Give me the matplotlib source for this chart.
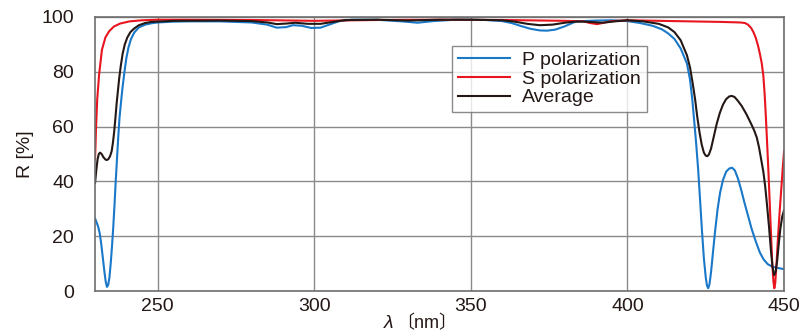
import matplotlib
matplotlib.use("Agg")
import matplotlib.pyplot as plt

# P polarization
wl_p = [230, 230.5, 231, 231.5, 232, 232.5, 233, 233.4, 233.8, 234.2, 234.6, 235, 235.4,
        235.8, 236.2, 236.6, 237, 237.4, 237.8, 238.3, 238.8, 239.4, 240, 240.7, 241.5,
        242.5, 244, 246, 248, 250, 255, 260, 270, 280, 285, 288, 291, 293.2, 296, 299,
        302, 305, 308, 312, 320, 328, 333, 338, 345, 350, 355, 360, 363, 366, 369, 372,
        374.3, 377, 380, 383, 386, 390, 395, 400, 404, 408, 411, 413, 415, 417, 419,
        420, 420.7, 421.4, 422, 422.6, 423.2, 423.8, 424.4, 425, 425.4, 425.8, 426.2,
        426.7, 427.3, 428, 428.8, 429.6, 430.5, 431.5, 432.5, 433.4, 434.3, 435.3,
        436.3, 437.3, 438.5, 439.7, 441, 442.3, 443.5, 444.8, 446.2, 448, 450]
r_p = [26.5, 25, 23.5, 21, 17, 12, 7, 3.5, 1.5, 2.2, 5, 10, 16, 23, 31, 40, 48, 56, 63,
       69, 74.5, 80, 85, 89, 92, 94.3, 96.2, 97.2, 97.7, 98.0, 98.3, 98.4, 98.4, 98.0,
       97.2, 96.1, 96.3, 97.0, 96.8, 96.0, 96.1, 97.3, 98.5, 99.0, 99.0, 98.4, 97.9,
       98.5, 99.0, 99.0, 98.9, 98.5, 97.8, 96.7, 95.7, 95.1, 95.0, 95.4, 96.6, 98.1,
       98.5, 98.7, 98.8, 98.5, 97.8, 96.8, 95.5, 94.0, 92.0, 88.5, 83, 77, 70, 61, 53,
       44, 33, 22, 12, 5, 2, 1, 2.5, 7, 14, 22, 30, 36, 40.5, 43.5, 44.7, 45, 44, 41,
       37, 32.5, 27.5, 22.5, 18, 14, 11.5, 9.8, 8.9, 8.4, 8.0]

# S polarization
wl_s = [230, 230.15, 230.3, 230.7, 231.3, 232.2, 233.3, 234.5, 236, 238, 241, 245, 250,
        260, 280, 300, 320, 340, 360, 380, 386, 388, 390.3, 392.5, 395, 400, 410, 420,
        430, 436, 437.5, 438.5, 439.5, 440.3, 441, 441.7, 442.3, 442.9, 443.4, 443.8,
        444.2, 444.6, 445, 445.4, 445.8, 446.2, 446.6, 446.9, 447.2, 447.6, 448.1,
        448.6, 449.2, 449.6, 450]
r_s = [48, 53, 59, 70, 79, 88, 92.5, 94.8, 96.5, 97.6, 98.4, 98.8, 99.0, 99.0, 98.9,
       98.6, 98.9, 99.0, 98.9, 98.6, 98.4, 97.8, 97.4, 97.9, 98.5, 98.8, 98.6, 98.4,
       98.2, 98.0, 97.8, 97.2, 96.0, 94.3, 92.3, 89.5, 86.5, 83, 78.5, 72, 63.5, 54, 44,
       33, 22, 11, 3.5, 1, 3, 10, 20, 29, 38.5, 45, 51]

# Average
wl_a = [230, 230.4, 230.8, 231.2, 231.6, 232.1, 232.7, 233.3, 233.8, 234.3, 234.8,
        235.3, 235.7, 236.1, 236.5, 236.9, 237.3, 237.7, 238.2, 238.8, 239.5, 240.3,
        241.3, 242.5, 244, 246, 248, 255, 270, 280, 285, 288, 291, 294, 298, 302, 306,
        310, 320, 330, 340, 350, 360, 364, 368, 372, 376, 380, 384, 388, 392, 396, 400,
        405, 410, 413, 415, 417, 419, 420, 420.8, 421.6, 422.3, 423, 423.7, 424.4, 425,
        425.5, 426, 426.7, 427.5, 428.5, 429.5, 430.5, 431.5, 432.5, 433.3, 434.2,
        435.2, 436.5, 438, 439.5, 440.5, 441.3, 442, 442.7, 443.4, 444, 444.6, 445.2,
        445.8, 446.3, 446.8, 447.3, 447.8, 448.3, 448.8, 449.4, 450]
r_a = [39.4, 44, 48, 50, 50.5, 50, 48.8, 48, 47.8, 48.2, 49.2, 51, 54, 58, 63, 68.5, 73,
       77.5, 82, 86.5, 90, 92.5, 94.5, 95.8, 97, 97.8, 98.2, 98.6, 98.7, 98.5, 98.0,
       97.4, 97.6, 97.9, 97.5, 97.5, 98.2, 98.9, 99.0, 98.7, 99.0, 99.0, 98.8, 98.3,
       97.5, 97.0, 97.2, 97.9, 98.4, 98.2, 97.9, 98.4, 98.8, 98.4, 97.5, 96.2, 94.5,
       91.5, 86, 81.5, 76, 70, 63.5, 58, 53.5, 50.5, 49.4, 49.2, 49.8, 52, 56, 61, 65,
       68, 70, 71, 71.2, 70.8, 69.5, 67.5, 64.5, 61, 58.5, 56, 52.5, 48, 43.5, 38, 31,
       23.5, 15, 9, 5.8, 7, 11, 17, 22.5, 27, 29.5]

x_ticks = [250, 300, 350, 400, 450]
y_ticks = [0, 20, 40, 60, 80, 100]

plt.rcParams['font.family'] = ['Liberation Sans', 'Noto Sans CJK JP', 'DejaVu Sans']

fig = plt.figure(figsize=(8.02, 3.35), dpi=100)
ax = fig.add_axes([0.1185, 0.1313, 0.8591, 0.818])

ax.plot(wl_p, r_p, color='#1a78c8', lw=1.5, label='P polarization')
ax.plot(wl_s, r_s, color='#e8141e', lw=1.5, label='S polarization')
ax.plot(wl_a, r_a, color='#231815', lw=1.5, label='Average')

ax.set_xlim(230, 450)
ax.set_ylim(0, 100)
ax.set_xticks(x_ticks)
ax.set_yticks(y_ticks)
ax.grid(True, color='#8a8a8a', lw=1.0)
ax.set_axisbelow(True)
for s in ax.spines.values():
    s.set_color('#6e6e6e')
    s.set_linewidth(1.2)
ax.tick_params(axis='both', length=0, labelsize=14, labelcolor='#231815')
ax.tick_params(axis='y', pad=15)
ax.tick_params(axis='x', pad=5)

ax.set_ylabel('R [%]', fontsize=14, color='#231815')
ax.yaxis.set_label_coords(-0.089, 0.5)

fig.text(0.485, 0.034, 'λ', fontsize=14, style='italic', color='#231815',
         ha='center', va='center')
fig.text(0.532, 0.034, '〔nm〕', fontsize=13, color='#231815',
         ha='center', va='center')

leg = ax.legend(loc='upper left', bbox_to_anchor=(0.518, 0.895), fontsize=14,
                frameon=True, fancybox=False, handlelength=2.7, labelspacing=0.05,
                borderpad=0.3, handletextpad=0.6, borderaxespad=0)
leg.get_frame().set_edgecolor('#6e6e6e')
leg.get_frame().set_linewidth(1.0)
for t in leg.get_texts():
    t.set_color('#231815')

fig.savefig('out.png', dpi=100)
